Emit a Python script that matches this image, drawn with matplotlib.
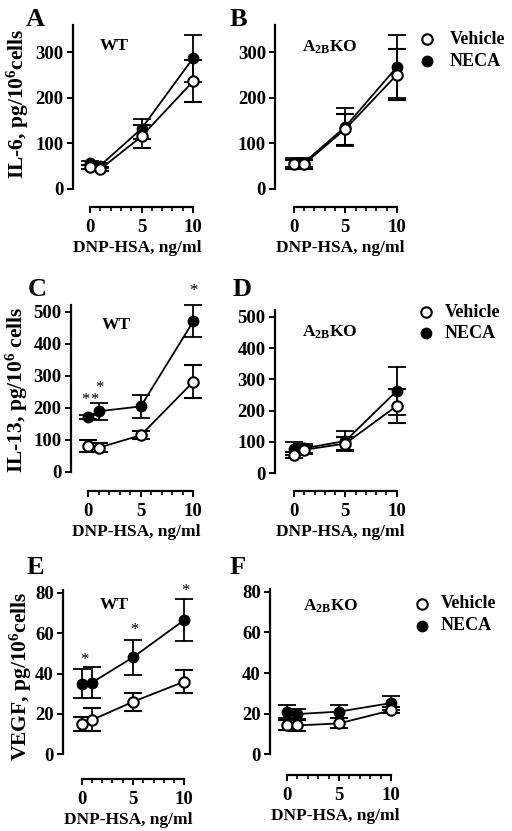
import matplotlib
matplotlib.use("Agg")
import matplotlib.pyplot as plt
from matplotlib.ticker import FixedLocator
import numpy as np

plt.rcParams['font.family'] = ['Liberation Serif', 'DejaVu Serif']
plt.rcParams['font.weight'] = 'bold'
plt.rcParams['mathtext.fontset'] = 'custom'
plt.rcParams['mathtext.rm'] = 'Liberation Serif:bold'
plt.rcParams['mathtext.bf'] = 'Liberation Serif:bold'
plt.rcParams['mathtext.it'] = 'Liberation Serif:bold'
plt.rcParams['mathtext.default'] = 'rm'

# ---------------- data ----------------
dose = [0, 1, 5, 10]

# IL-6 WT (A)
il6_wt_veh = [48, 43, 115, 236]
il6_wt_veh_err = [5, 5, 26, 46]
il6_wt_neca = [57, 51, 132, 287]
il6_wt_neca_err = [5, 5, 22, 52]
# IL-6 A2BKO (B)
il6_ko_veh = [54, 54, 131, 251]
il6_ko_veh_err = [10, 10, 34, 57]
il6_ko_neca = [57, 57, 136, 268]
il6_ko_neca_err = [10, 10, 42, 69]
# IL-13 WT (C)
il13_wt_veh = [80, 75, 114, 281]
il13_wt_veh_err = [19, 14, 12, 51]
il13_wt_neca = [171, 189, 204, 470]
il13_wt_neca_err = [5, 26, 37, 50]
# IL-13 A2BKO (D)
il13_ko_veh = [58, 75, 95, 215]
il13_ko_veh_err = [10, 12, 22, 53]
il13_ko_neca = [79, 80, 103, 263]
il13_ko_neca_err = [20, 14, 33, 76]
# VEGF WT (E)
vegf_wt_veh = [15, 17, 26, 36]
vegf_wt_veh_err = [3.5, 5.7, 4.5, 5.5]
vegf_wt_neca = [35, 35.5, 48, 66.5]
vegf_wt_neca_err = [7, 7.7, 8.5, 10.3]
# VEGF A2BKO (F)
vegf_ko_veh = [14.5, 14.2, 15.2, 21.6]
vegf_ko_veh_err = [2.5, 2.5, 2.5, 1.5]
vegf_ko_neca = [21, 19.8, 21, 25.2]
vegf_ko_neca_err = [3.3, 2.5, 3.3, 3.6]

xticks = [0, 5, 10]
xminor = [0, 1, 2, 3, 4, 5, 6, 7, 8, 9, 10]
yticks_il6 = [0, 100, 200, 300]
yticks_il13 = [0, 100, 200, 300, 400, 500]
yticks_vegf = [0, 20, 40, 60, 80]

legend_labels = ["Vehicle", "NECA"]

# asterisks: (x, y) in data coordinates
stars_c = [(-0.3, 225), (0.55, 225), (1.1, 262), (10.0, 565)]
stars_e = [(0.25, 46.5), (5.1, 61.5), (10.1, 81)]

# ---------------- layout ----------------
W, H = 512, 831
fig = plt.figure(figsize=(W / 100, H / 100), dpi=100)
fig.patch.set_facecolor('white')


def make_ax(spine_x, x0, x10, y0, yref_px, yref_val, ytop, xaxis_y):
    pxu = (x10 - x0) / 10.0
    ppu = (y0 - yref_px) / yref_val
    xl = (spine_x - x0) / pxu
    xr = 10.9
    right_px = x0 + xr * pxu
    top_px = y0 - ytop * ppu
    ax = fig.add_axes([spine_x / W, 1 - y0 / H, (right_px - spine_x) / W, (y0 - top_px) / H])
    ax.set_xlim(xl, xr)
    ax.set_ylim(0, ytop)
    ax.patch.set_alpha(0)
    for s in ['top', 'right']:
        ax.spines[s].set_visible(False)
    ax.spines['left'].set_linewidth(1.6)
    ax.spines['bottom'].set_linewidth(1.6)
    ax.spines['bottom'].set_bounds(0, 10)
    ax.spines['bottom'].set_position(('outward', (xaxis_y - y0) * 0.72))
    ax.set_xticks(xticks)
    ax.xaxis.set_minor_locator(FixedLocator(xminor))
    ax.tick_params(axis='both', which='major', direction='out', length=4.5, width=1.4,
                   labelsize=13.5, pad=2)
    ax.tick_params(axis='x', which='minor', direction='out', length=3, width=1.2)
    ax.tick_params(axis='x', which='major', pad=4)
    ax.set_xlabel("DNP-HSA, ng/ml", fontsize=12.5, fontweight='bold', labelpad=3)
    return ax


def draw(ax, veh, veh_err, neca, neca_err):
    kw = dict(color='black', lw=1.3, capsize=6.5, elinewidth=1.3, capthick=1.3,
              markersize=7.5, clip_on=False)
    ax.errorbar(dose, neca, yerr=neca_err, marker='o', mfc='black', mec='black',
                label=legend_labels[1], zorder=3, **kw)
    ax.errorbar(dose, veh, yerr=veh_err, marker='o', mfc='white', mec='black', mew=1.5,
                label=legend_labels[0], zorder=4, **kw)


def legend(x_marker, x_text, y_veh, y_neca):
    fig.lines.append(plt.Line2D([x_marker / W], [1 - y_veh / H], marker='o', ms=7.5, mfc='white',
                                mec='black', mew=1.5, transform=fig.transFigure))
    fig.lines.append(plt.Line2D([x_marker / W], [1 - y_neca / H], marker='o', ms=7.5, mfc='black',
                                mec='black', transform=fig.transFigure))
    fig.text(x_text / W, 1 - y_veh / H, legend_labels[0], fontsize=13, fontweight='bold', va='center')
    fig.text(x_text / W, 1 - y_neca / H, legend_labels[1], fontsize=13, fontweight='bold', va='center')


# Panel A
axA = make_ax(72.5, 90, 193, 188.7, 52.3, 300, 360, 207)
draw(axA, il6_wt_veh, il6_wt_veh_err, il6_wt_neca, il6_wt_neca_err)
axA.set_yticks(yticks_il6)
# Panel B
axB = make_ax(275, 293.5, 397, 188.7, 52.3, 300, 360, 207)
draw(axB, il6_ko_veh, il6_ko_veh_err, il6_ko_neca, il6_ko_neca_err)
axB.set_yticks(yticks_il6)
# Panel C
axC = make_ax(70.7, 88.3, 193.3, 471.7, 311.7, 500, 520, 491)
draw(axC, il13_wt_veh, il13_wt_veh_err, il13_wt_neca, il13_wt_neca_err)
axC.set_yticks(yticks_il13)
# Panel D
axD = make_ax(274.5, 294, 396.7, 473.3, 316.7, 500, 520, 491)
draw(axD, il13_ko_veh, il13_ko_veh_err, il13_ko_neca, il13_ko_neca_err)
axD.set_yticks(yticks_il13)
# Panel E
axE = make_ax(62.7, 81.7, 184.3, 754.3, 592.7, 80, 81.3, 779)
draw(axE, vegf_wt_veh, vegf_wt_veh_err, vegf_wt_neca, vegf_wt_neca_err)
axE.set_yticks(yticks_vegf)
# Panel F
axF = make_ax(270, 287, 391, 754.3, 591.7, 80, 81.2, 775)
draw(axF, vegf_ko_veh, vegf_ko_veh_err, vegf_ko_neca, vegf_ko_neca_err)
axF.set_yticks(yticks_vegf)

for ax in [axA, axB, axC, axD, axE, axF]:
    for lab in ax.get_xticklabels() + ax.get_yticklabels():
        lab.set_fontweight('bold')

# y labels
fig.text(18 / W, 1 - 104 / H, r"IL-6, pg/10$^{6}$cells", rotation=90, ha='center', va='center',
         fontsize=15.5, fontweight='bold')
fig.text(17 / W, 1 - 390 / H, r"IL-13, pg/10$^{6}$ cells", rotation=90, ha='center', va='center',
         fontsize=15.5, fontweight='bold')
fig.text(21 / W, 1 - 676 / H, r"VEGF, pg/10$^{6}$cells", rotation=90, ha='center', va='center',
         fontsize=15.5, fontweight='bold')

# panel letters
for lbl, (x, y) in zip("ABCDEF", [(35, 20), (238, 20), (37, 290), (242, 290), (35, 568), (238, 568)]):
    fig.text(x / W, 1 - y / H, lbl, fontsize=19, fontweight='bold', ha='center', va='center')

# group labels
for (x, y) in [(114, 46), (116, 325), (114, 605)]:
    fig.text(x / W, 1 - y / H, "WT", fontsize=12.5, fontweight='bold', ha='center', va='center')
for (x, y) in [(330, 47), (330, 332), (331, 606)]:
    fig.text(x / W, 1 - y / H, r"A$_{2B}$KO", fontsize=12.5, fontweight='bold', ha='center', va='center')

# asterisks
for (x, y) in stars_c:
    axC.text(x, y, "*", fontsize=12, fontweight='normal', ha='center', va='center', clip_on=False)
for (x, y) in stars_e:
    axE.text(x, y, "*", fontsize=12, fontweight='normal', ha='center', va='center', clip_on=False)

# legends
legend(427, 450, 39.3, 61)
legend(426, 445, 312.3, 333.3)
legend(422, 441, 604, 626)

fig.savefig("out.png", dpi=100, facecolor='white')
